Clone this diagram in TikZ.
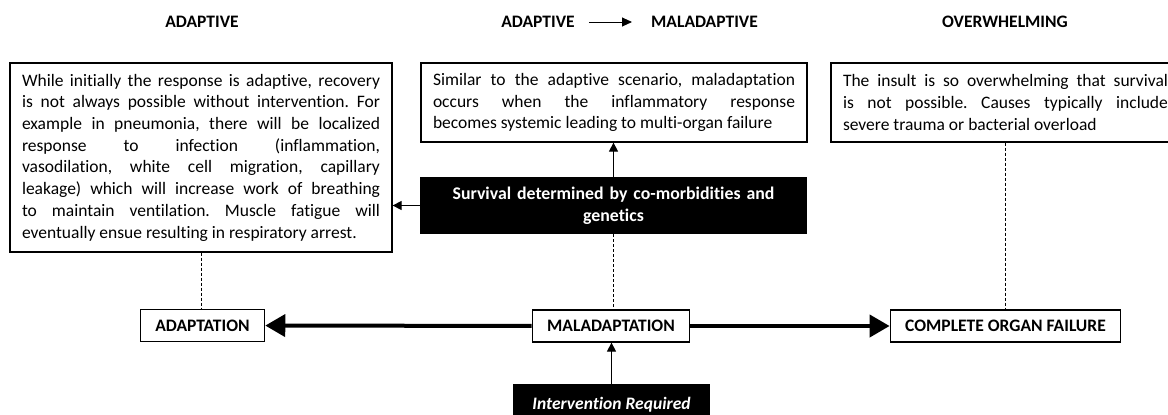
\documentclass[tikz,border=0pt]{standalone}
\usepackage{fontspec}
\setmainfont{Carlito}[Ligatures = NoCommon]
\usetikzlibrary{arrows.meta}
\tolerance=10000
\hbadness=10000
\frenchspacing

\begin{document}
\begin{tikzpicture}[x = 1pt, y = -1pt,
        every node/.append style = {font = \fontsize{17.5}{21.7}\selectfont},
        heading/.style = {inner sep = 0pt, font = \fontsize{17.5}{21.7}\selectfont\bfseries},
        textbox/.style = {draw, line width = 1.2pt, inner xsep = 12pt, inner ysep = 0pt, align = justify},
        stage/.style = {draw, line width = 1.2pt, inner xsep = 15pt, minimum height = 32pt, font = \fontsize{17.5}{21.7}\selectfont\bfseries},
        blackbox/.style = {fill = black, text = white, inner sep = 0pt, align = center},
        link/.style = {-{Triangle[length = 9pt, width = 9pt]}, line width = 0.9pt},
        bigarrow/.style = {-{Triangle[length = 20pt, width = 22pt]}, line width = 4pt},
        guide/.style = {line width = 0.8pt, dash pattern = on 3pt off 2pt}]
    \useasboundingbox (0,0) rectangle (1168,415);
    \clip (0,0) rectangle (1168,415);

    % column headings
    \node[heading] (adaptive) at (202,22) {ADAPTIVE};
    \node[heading] (from) at (538,22) {ADAPTIVE};
    \node[heading] (to) at (704.5,22) {MALADAPTIVE};
    \node[heading] (overwhelming) at (1005,22) {OVERWHELMING};
    \draw[-{Triangle[length = 10pt, width = 9pt]}, line width = 0.9pt, shorten <= 14pt, shorten >= 19pt] (from) -- (to);

    % descriptions
    \node[textbox, text width = 358pt, minimum height = 189pt] (leftbox) at (201,157.5) {While initially the response is adaptive, recovery\linebreak
        is not always possible without intervention. For\linebreak
        example in pneumonia, there will be localized\linebreak
        response to infection (inflammation,\linebreak
        vasodilation, white cell migration, capillary\linebreak
        leakage) which will increase work of breathing\linebreak
        to maintain ventilation. Muscle fatigue will\linebreak
        eventually ensue resulting in respiratory arrest.};
    \node[textbox, text width = 362pt, minimum height = 79pt] (midbox) at (614,102.5) {Similar to the adaptive scenario, maladaptation\linebreak
        occurs when the inflammatory response\linebreak
        becomes systemic leading to multi-organ failure};
    \node[textbox, text width = 325pt, minimum height = 79pt] (rightbox) at (1005.5,102.5) {The insult is so overwhelming that survival\linebreak
        is not possible. Causes typically include\linebreak
        severe trauma or bacterial overload};

    % black boxes
    \node[blackbox, text width = 387pt, minimum height = 57pt, font = \fontsize{17.8}{21.7}\selectfont\bfseries] (survival) at (613.5,205.5) {Survival determined by co-morbidities and\\ genetics};
    \node[blackbox, minimum width = 197pt, minimum height = 42pt, font = \fontsize{17.5}{21.7}\selectfont\bfseries\itshape] (intervention) at (611.5,405) {Intervention Required};

    % stages
    \node[stage] (adaptation) at (202.5,325.5) {ADAPTATION};
    \node[stage] (maladaptation) at (611,326) {MALADAPTATION};
    \node[stage] (failure) at (1005.5,326) {COMPLETE ORGAN FAILURE};

    \draw[bigarrow] (maladaptation) -- (adaptation);
    \draw[bigarrow] (maladaptation) -- (failure);
    \draw[link] (survival.west) -- (survival.west -| leftbox.east);
    \draw[link] (survival.north) -- (survival.north |- midbox.south);
    \draw[link] (intervention.north) -- (intervention.north |- maladaptation.south);
    \draw[guide] (leftbox.south) -- (leftbox.south |- adaptation.north);
    \draw[guide] (survival.south) -- (survival.south |- maladaptation.north);
    \draw[guide] (rightbox.south) -- (rightbox.south |- failure.north);
\end{tikzpicture}
\end{document}
